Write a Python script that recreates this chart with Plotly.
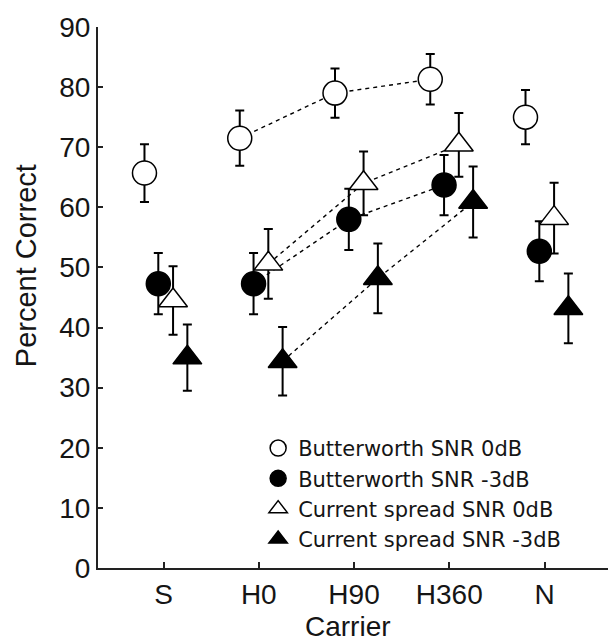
import plotly.graph_objects as go

carriers = ["S", "H0", "H90", "H360", "N"]
series_names = [
    "Butterworth SNR 0dB",
    "Butterworth SNR -3dB",
    "Current spread SNR 0dB",
    "Current spread SNR -3dB",
]
bw_0db = [65.7, 71.5, 79.0, 81.3, 75.0]
bw_0db_err = [4.8, 4.6, 4.1, 4.2, 4.5]
bw_m3db = [47.3, 47.3, 58.0, 63.7, 52.7]
bw_m3db_err = [5.1, 5.1, 5.1, 5.0, 5.0]
cs_0db = [44.5, 50.6, 64.0, 70.4, 58.2]
cs_0db_err = [5.7, 5.8, 5.3, 5.3, 5.9]
cs_m3db = [35.0, 34.4, 48.2, 60.9, 43.2]
cs_m3db_err = [5.5, 5.7, 5.8, 5.9, 5.8]

values = [bw_0db, bw_m3db, cs_0db, cs_m3db]
errors = [bw_0db_err, bw_m3db_err, cs_0db_err, cs_m3db_err]

# styling
offsets = [-0.2, -0.055, 0.1, 0.25]
symbols = ["circle", "circle", "triangle-up", "triangle-up"]
fills = ["white", "black", "white", "black"]
sizes = [24, 24, 25, 25]
FONT = "Liberation Sans, Arial, sans-serif"
LEGFONT = "DejaVu Sans, Liberation Sans, Arial, sans-serif"
INK = "#151515"

xbase = list(range(1, len(carriers) + 1))

fig = go.Figure()

# dashed connecting lines (H0, H90, H360)
for k in range(4):
    xs = [xbase[i] + offsets[k] for i in range(1, 4)]
    ys = [values[k][i] for i in range(1, 4)]
    fig.add_trace(go.Scatter(
        x=xs, y=ys, mode="lines", showlegend=False, hoverinfo="skip",
        line=dict(color="black", width=1.4, dash="4px,4px"),
    ))

for k in range(4):
    xs = [x + offsets[k] for x in xbase]
    fig.add_trace(go.Scatter(
        x=xs, y=values[k], mode="markers", name=series_names[k],
        marker=dict(symbol=symbols[k], size=sizes[k], color=fills[k],
                    line=dict(color="black", width=1.5)),
        error_y=dict(type="data", array=errors[k], visible=True,
                     color="black", thickness=2, width=4.5),
    ))

fig.update_layout(
    width=608, height=641,
    margin=dict(l=98, r=0, t=27, b=73),
    paper_bgcolor="white", plot_bgcolor="white",
    font=dict(family=FONT, color=INK),
    showlegend=True,
    legend=dict(
        x=0.314, y=0.259, xanchor="left", yanchor="top",
        bgcolor="rgba(0,0,0,0)", borderwidth=0,
        font=dict(family=LEGFONT, size=21, color=INK),
        tracegroupgap=0, itemsizing="trace",
    ),
    xaxis=dict(
        range=[0.312, 5.666], tickmode="array", tickvals=xbase, ticktext=carriers,
        showgrid=False, zeroline=False, showline=True, linecolor="#222", linewidth=2,
        ticks="inside", ticklen=6, tickwidth=1.5, tickcolor="#222",
        tickfont=dict(size=28, family=FONT, color=INK),
        mirror=False,
    ),
    yaxis=dict(
        range=[0, 90], tickmode="array", tickvals=list(range(0, 91, 10)),
        showgrid=False, zeroline=False, showline=True, linecolor="#222", linewidth=2,
        ticks="inside", ticklen=5, tickwidth=1.5, tickcolor="#222",
        tickfont=dict(size=28, family=FONT, color=INK),
        mirror=False,
    ),
    annotations=[
        dict(text="Percent Correct", xref="paper", yref="paper",
             x=-0.141, y=0.558, xanchor="center", yanchor="middle",
             textangle=-90, showarrow=False,
             font=dict(size=29, family=FONT, color=INK)),
        dict(text="Carrier", xref="paper", yref="paper",
             x=0.49, y=-0.109, xanchor="center", yanchor="middle",
             showarrow=False, font=dict(size=28, family=FONT, color=INK)),
    ],
)

fig.write_html("out.html")
